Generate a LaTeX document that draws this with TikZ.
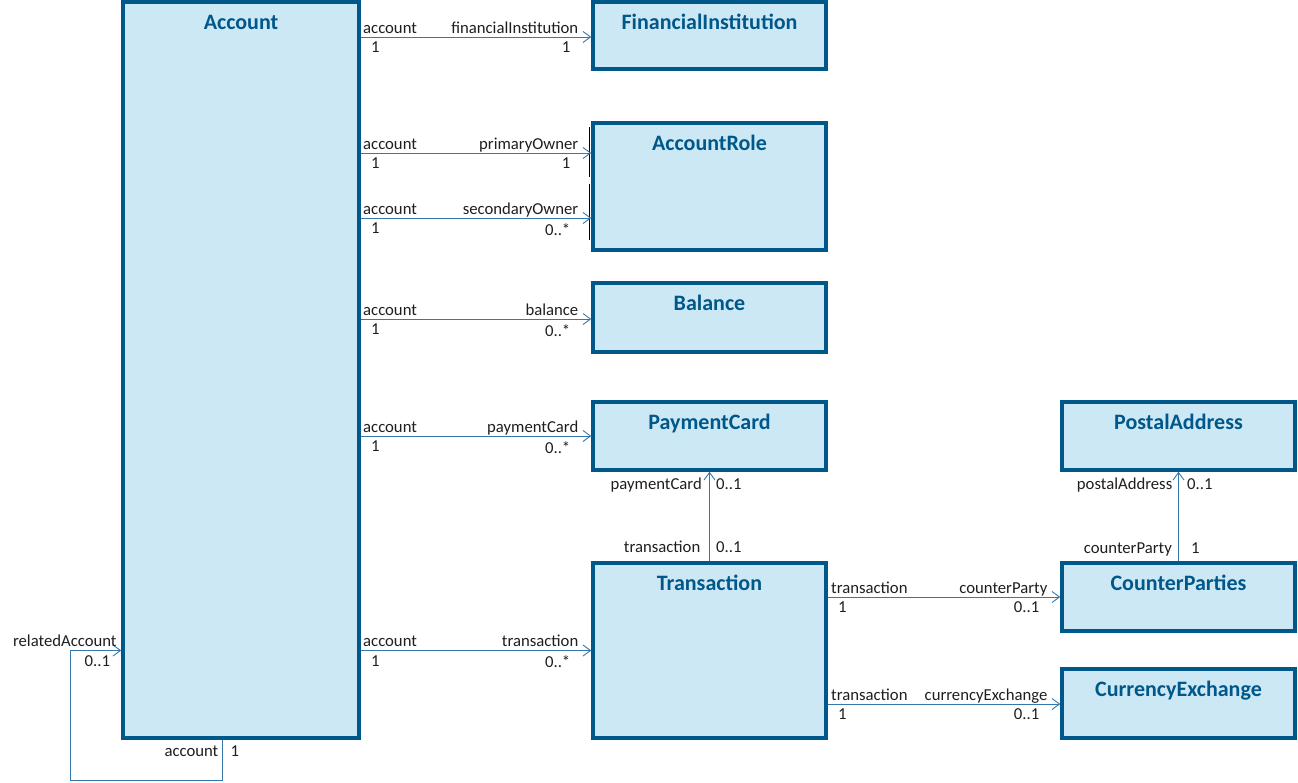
\documentclass[tikz,border=0pt]{standalone}
\usepackage{fontspec}
\setmainfont{Carlito}
\usetikzlibrary{arrows.meta}
\definecolor{boxline}{HTML}{00578A}
\definecolor{boxfill}{HTML}{CDE8F5}
\definecolor{titlecol}{HTML}{00578A}
\definecolor{conn}{HTML}{3478AE}
\definecolor{txt}{HTML}{1E1E1E}
\newcommand\mytitlesize{\fontsize{22}{26}\selectfont}
\newcommand\mylblsize{\fontsize{16.7}{20}\selectfont}
\begin{document}
\begin{tikzpicture}[x=1pt,y=-1pt,
  umlbox/.style={draw=boxline, fill=boxfill, line width=3.5pt, rectangle, inner sep=0pt,
    minimum width=233pt, minimum height=#1},
  ttl/.style={text=titlecol, font=\mytitlesize\bfseries, inner sep=0pt, anchor=base},
  assoc/.style={draw=conn, line width=0.9pt, -{Straight Barb[length=7.5pt,width=11pt,line width=0.9pt]}},
  lbl/.style={text=txt, font=\mylblsize, inner sep=0pt},
  srcA/.style={lbl, anchor=base west, xshift=2pt, yshift=3.7pt},
  srcM/.style={lbl, anchor=north west, xshift=10pt, yshift=-4.7pt},
  dstA/.style={lbl, anchor=base east, xshift=-12.5pt, yshift=3.7pt},
  dstM/.style={lbl, anchor=north east, xshift=-20.5pt, yshift=-4.7pt}
]
\useasboundingbox (0,0) rectangle (1298,782);

% boxes
\node[umlbox=736pt, minimum width=236pt] (acc) at (241,370) {};
\node[umlbox=67pt]  (fi)    at (709.5,35.5) {};
\node[umlbox=127pt] (ar)    at (709.5,186.5) {};
\node[umlbox=69pt]  (bal)   at (709.5,317.5) {};
\node[umlbox=68pt]  (pc)    at (709.5,436) {};
\node[umlbox=175pt] (trans) at (709.5,650.5) {};
\node[umlbox=68pt]  (pa)    at (1178.5,436) {};
\node[umlbox=68pt]  (cp)    at (1178.5,597) {};
\node[umlbox=69pt]  (ce)    at (1178.5,703.5) {};

% titles
\node[ttl] (tacc)   at ([yshift=-29pt]acc.north)   {Account};
\node[ttl] (tfi)    at ([yshift=-29pt]fi.north)    {FinancialInstitution};
\node[ttl] (tar)    at ([yshift=-29pt]ar.north)    {AccountRole};
\node[ttl] (tbal)   at ([yshift=-29pt]bal.north)   {Balance};
\node[ttl] (tpc)    at ([yshift=-29pt]pc.north)    {PaymentCard};
\node[ttl] (ttrans) at ([yshift=-29pt]trans.north) {Transaction};
\node[ttl] (tpa)    at ([yshift=-29pt]pa.north)    {PostalAddress};
\node[ttl] (tcp)    at ([yshift=-29pt]cp.north)    {CounterParties};
\node[ttl] (tce)    at ([yshift=-29pt]ce.north)    {CurrencyExchange};

% black marks on AccountRole left edge
\draw[black, line width=1.3pt] ([xshift=-1.6pt]ar.north west |- 0,127) -- ([xshift=-1.6pt]ar.north west |- 0,177);
\draw[black, line width=1.3pt] ([xshift=-1.6pt]ar.north west |- 0,184) -- ([xshift=-1.6pt]ar.north west |- 0,240);

% entry points
\coordinate (fiIn)  at ([yshift=-1.5pt]fi.west);
\coordinate (arIn1) at ([yshift=33.5pt]ar.west);
\coordinate (arIn2) at ([yshift=-31.5pt]ar.west);
\coordinate (balIn) at ([yshift=-1.5pt]bal.west);
\coordinate (ceIn)  at ([yshift=-0.5pt]ce.west);

% associations from Account
\draw[assoc] (acc.east |- fiIn) -- (fiIn)
  node[pos=0, srcA] {account} node[pos=0, srcM] {1}
  node[pos=1, dstA] {financialInstitution} node[pos=1, dstM] {1};
\draw[assoc] (acc.east |- arIn1) -- (arIn1)
  node[pos=0, srcA] {account} node[pos=0, srcM] {1}
  node[pos=1, dstA] {primaryOwner} node[pos=1, dstM] {1};
\draw[assoc] (acc.east |- arIn2) -- (arIn2)
  node[pos=0, srcA] {account} node[pos=0, srcM] {1}
  node[pos=1, dstA] {secondaryOwner} node[pos=1, dstM] {0..*};
\draw[assoc] (acc.east |- balIn) -- (balIn)
  node[pos=0, srcA] {account} node[pos=0, srcM] {1}
  node[pos=1, dstA] {balance} node[pos=1, dstM] {0..*};
\draw[assoc] (acc.east |- pc.west) -- (pc.west)
  node[pos=0, srcA] {account} node[pos=0, srcM] {1}
  node[pos=1, dstA] {paymentCard} node[pos=1, dstM] {0..*};
\draw[assoc] (acc.east |- trans.west) -- (trans.west)
  node[pos=0, srcA] {account} node[pos=0, srcM] {1}
  node[pos=1, dstA] {transaction} node[pos=1, dstM] {0..*};

% associations from Transaction
\draw[assoc] (trans.east |- cp.west) -- (cp.west)
  node[pos=0, srcA, xshift=1pt] {transaction} node[pos=0, srcM] {1}
  node[pos=1, dstA] {counterParty} node[pos=1, dstM] {0..1};
\draw[assoc] (trans.east |- ceIn) -- (ceIn)
  node[pos=0, srcA, xshift=1pt] {transaction} node[pos=0, srcM] {1}
  node[pos=1, dstA] {currencyExchange} node[pos=1, dstM] {0..1};

% vertical associations
\draw[assoc] (trans.north) -- (pc.south);
\node[lbl, anchor=base east] (l1) at ([xshift=-7.5pt,yshift=-18pt]pc.south) {paymentCard};
\node[lbl, anchor=base west] (l2) at ([xshift=6.5pt,yshift=-18pt]pc.south) {0..1};
\node[lbl, anchor=base east] (l3) at ([xshift=-9pt,yshift=8.5pt]trans.north) {transaction};
\node[lbl, anchor=base west] (l4) at ([xshift=6.5pt,yshift=8.5pt]trans.north) {0..1};

\draw[assoc] (cp.north) -- (pa.south);
\node[lbl, anchor=base east] (l5) at ([xshift=-6pt,yshift=-18pt]pa.south) {postalAddress};
\node[lbl, anchor=base west] (l6) at ([xshift=8.5pt,yshift=-18pt]pa.south) {0..1};
\node[lbl, anchor=base east] (l7) at ([xshift=-6.5pt,yshift=8pt]cp.north) {counterParty};
\node[lbl, anchor=base west] (l8) at ([xshift=12.5pt,yshift=8pt]cp.north) {1};

% self association
\coordinate (lpA) at ([xshift=-18.5pt]acc.south);
\coordinate (lpC) at (70.5,780.25);
\coordinate (lpE) at (acc.west |- trans.west);
\draw[assoc] (lpA) |- (lpC) |- (lpE);
\node[lbl, anchor=base east] (l9)  at ([xshift=-4pt,yshift=-17pt]lpA) {account};
\node[lbl, anchor=base west] (l10) at ([xshift=8pt,yshift=-17pt]lpA) {1};
\node[lbl, anchor=base east] (l11) at ([xshift=-4.5pt,yshift=4pt]lpE) {relatedAccount};
\node[lbl, anchor=north east] (l12) at ([xshift=-11pt,yshift=-4.5pt]lpE) {0..1};
\end{tikzpicture}
\end{document}
